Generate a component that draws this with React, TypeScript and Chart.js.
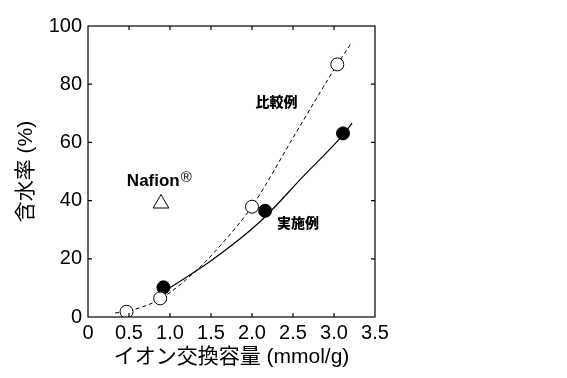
import React, { useEffect, useRef } from "react";
import { Chart, registerables } from "chart.js";

Chart.register(...registerables);

// Data
const comparativeX = [0.47, 0.88, 2.0, 3.04];
const comparativeY = [1.8, 6.4, 37.9, 86.8];
const exampleX = [0.92, 2.16, 3.11];
const exampleY = [10.2, 36.5, 63.1];
const nafionX = [0.89];
const nafionY = [39];

// Fitted guide curves
const compCurveX = [0.33, 0.47, 0.88, 1.37, 1.69, 2.0, 2.54, 3.04, 3.22];
const compCurveY = [1.4, 1.9, 6.2, 17.3, 27.0, 38.0, 63.5, 86.8, 94.5];
const exampleCurveX = [0.95, 1.5, 2.1, 2.63, 3.11, 3.22];
const exampleCurveY = [9.2, 19.3, 32.8, 48.5, 62.6, 66.6];

const xTicks = [0, 0.5, 1.0, 1.5, 2.0, 2.5, 3.0, 3.5];
const yTicks = [0, 20, 40, 60, 80, 100];

const labelTexts = ["比較例", "実施例"];
const labelX = [2.3, 2.56];
const labelY = [74, 32.3];
const nafionLabel = "Nafion";
const nafionMark = "®";
const nafionLabelX = 0.87;
const nafionLabelY = 46.5;

const xTitle = "イオン交換容量 (mmol/g)";
const yTitle = "含水率 (%)";

const FONT = "'Liberation Sans', Arial, 'Noto Sans CJK JP', sans-serif";

const toPts = (xs: number[], ys: number[]) => xs.map((x, i) => ({ x, y: ys[i] }));

export default function App() {
  const ref = useRef<HTMLCanvasElement | null>(null);

  useEffect(() => {
    if (!ref.current) return;

    const framePlugin = {
      id: "framePlugin",
      afterDatasetsDraw(chart: any) {
        const { ctx, chartArea: a, scales } = chart;
        const xs = scales.x;
        const ys = scales.y;
        ctx.save();
        ctx.strokeStyle = "#000";
        ctx.lineWidth = 1.2;
        ctx.strokeRect(a.left, a.top, a.right - a.left, a.bottom - a.top);
        const tl = 4;
        ctx.beginPath();
        xTicks.forEach((v) => {
          const px = xs.getPixelForValue(v);
          if (px <= a.left + 1 || px >= a.right - 1) return;
          ctx.moveTo(px, a.bottom);
          ctx.lineTo(px, a.bottom - tl);
          ctx.moveTo(px, a.top);
          ctx.lineTo(px, a.top + tl);
        });
        yTicks.forEach((v) => {
          const py = ys.getPixelForValue(v);
          if (py <= a.top + 1 || py >= a.bottom - 1) return;
          ctx.moveTo(a.left, py);
          ctx.lineTo(a.left + tl, py);
          ctx.moveTo(a.right, py);
          ctx.lineTo(a.right - tl, py);
        });
        ctx.stroke();

        // annotation labels
        ctx.fillStyle = "#000";
        ctx.textBaseline = "middle";
        ctx.textAlign = "center";
        ctx.font = `900 14px 'Noto Sans CJK JP', 'Liberation Sans', Arial, sans-serif`;
        labelTexts.forEach((t, i) => {
          ctx.fillText(t, xs.getPixelForValue(labelX[i]), ys.getPixelForValue(labelY[i]));
        });

        // Nafion® label with raised mark
        const nx = xs.getPixelForValue(nafionLabelX);
        const ny = ys.getPixelForValue(nafionLabelY);
        ctx.font = `bold 17px 'Liberation Sans', Arial, sans-serif`;
        const w1 = ctx.measureText(nafionLabel).width;
        ctx.font = `15px 'Liberation Sans', Arial, sans-serif`;
        const w2 = ctx.measureText(nafionMark).width;
        const start = nx - (w1 + w2 + 1) / 2;
        ctx.textAlign = "left";
        ctx.font = `bold 17px 'Liberation Sans', Arial, sans-serif`;
        ctx.fillText(nafionLabel, start, ny);
        ctx.font = `15px 'Liberation Sans', Arial, sans-serif`;
        ctx.fillText(nafionMark, start + w1 + 1, ny - 4);
        ctx.restore();
      },
    };

    const chart = new Chart(ref.current, {
      type: "scatter",
      data: {
        datasets: [
          {
            label: "比較例",
            data: toPts(comparativeX, comparativeY),
            pointRadius: 6.5,
            pointBackgroundColor: "#fff",
            pointBorderColor: "#000",
            pointBorderWidth: 1,
            showLine: false,
            order: 1,
          },
          {
            label: "実施例",
            data: toPts(exampleX, exampleY),
            pointRadius: 6.5,
            pointBackgroundColor: "#000",
            pointBorderColor: "#000",
            pointBorderWidth: 1,
            showLine: false,
            order: 1,
          },
          {
            label: "Nafion",
            data: toPts(nafionX, nafionY),
            pointStyle: "triangle",
            pointRadius: 9,
            pointBackgroundColor: "#fff",
            pointBorderColor: "#000",
            pointBorderWidth: 1,
            showLine: false,
            order: 1,
          },
          {
            label: "比較例 curve",
            data: toPts(compCurveX, compCurveY),
            showLine: true,
            borderColor: "#000",
            borderWidth: 1,
            borderDash: [4, 3],
            pointRadius: 0,
            cubicInterpolationMode: "monotone",
            order: 5,
          },
          {
            label: "実施例 curve",
            data: toPts(exampleCurveX, exampleCurveY),
            showLine: true,
            borderColor: "#000",
            borderWidth: 1.2,
            pointRadius: 0,
            cubicInterpolationMode: "monotone",
            order: 5,
          },
        ],
      },
      options: {
        responsive: false,
        animation: false,
        layout: { padding: { left: 0, top: 26, right: 192, bottom: 0 } },
        plugins: { legend: { display: false }, tooltip: { enabled: false } },
        scales: {
          x: {
            type: "linear",
            min: 0,
            max: 3.5,
            afterBuildTicks: (s: any) => {
              s.ticks = xTicks.map((v) => ({ value: v }));
            },
            afterFit: (s: any) => {
              s.height = 61;
            },
            grid: { display: false, drawTicks: false, tickLength: 0 },
            border: { display: false },
            ticks: {
              color: "#000",
              padding: 4,
              maxRotation: 0,
              autoSkip: false,
              font: { family: FONT, size: 20 },
              callback: (v: any) => (Number(v) === 0 ? "0" : Number(v).toFixed(1)),
            },
            title: {
              display: true,
              text: xTitle,
              color: "#000",
              font: { family: FONT, size: 21 },
              padding: { top: 0, bottom: 8 },
            },
          },
          y: {
            type: "linear",
            min: 0,
            max: 100,
            afterBuildTicks: (s: any) => {
              s.ticks = yTicks.map((v) => ({ value: v }));
            },
            afterFit: (s: any) => {
              s.width = 88;
            },
            grid: { display: false, drawTicks: false, tickLength: 0 },
            border: { display: false },
            ticks: {
              color: "#000",
              padding: 6,
              autoSkip: false,
              font: { family: FONT, size: 20 },
              callback: (v: any) => String(v),
            },
            title: {
              display: true,
              text: yTitle,
              color: "#000",
              font: { family: FONT, size: 21 },
              padding: { top: 14, bottom: 0 },
            },
          },
        },
      },
      plugins: [framePlugin],
    } as any);

    return () => chart.destroy();
  }, []);

  return (
    <div style={{ position: "fixed", left: 0, top: 0, width: 567, height: 378, background: "#fff" }}>
      <canvas ref={ref} width={567} height={378} />
    </div>
  );
}
